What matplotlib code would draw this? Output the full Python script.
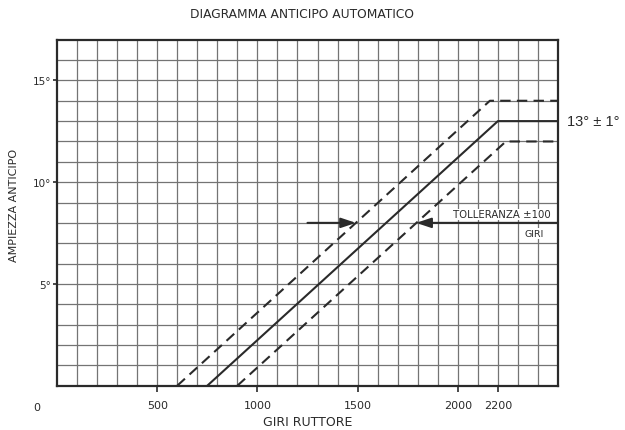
import matplotlib
matplotlib.use("Agg")
import matplotlib.pyplot as plt
import numpy as np

# Advance curve: breaker rpm vs. advance angle (degrees)
rpm_nominal = [750, 2200, 2500]
adv_nominal = [0, 13, 13]
rpm_upper = [600, 2160, 2500]
adv_upper = [0, 14, 14]
rpm_lower = [900, 2240, 2500]
adv_lower = [0, 12, 12]

x_ticks = [500, 1000, 1500, 2000, 2200]
x_tick_labels = ["500", "1000", "1500", "2000", "2200"]
y_ticks = [5, 10, 15]
y_tick_labels = ["5°", "10°", "15°"]

# Tolerance arrows at 8° advance
arrow_level = 8
arrow_left_from, arrow_left_to = 1250, 1492
arrow_right_from, arrow_right_to = 2500, 1792

ink = "#2a2a2a"
grid_col = "#747474"
font = "DejaVu Sans"

fig = plt.figure(figsize=(6.25, 4.31), dpi=100)
ax = fig.add_axes([57 / 625, 1 - 386.7 / 431, 501 / 625, 346 / 431])

ax.set_xlim(0, 2500)
ax.set_ylim(0, 17)

# square paper grid: 100 rpm x 1 degree
for xv in np.arange(100, 2500, 100):
    ax.axvline(xv, color=grid_col, lw=0.9, zorder=1)
for yv in np.arange(1, 17, 1):
    ax.axhline(yv, color=grid_col, lw=0.9, zorder=1)

for s in ax.spines.values():
    s.set_linewidth(1.6)
    s.set_color(ink)

ax.plot(rpm_nominal, adv_nominal, color=ink, lw=1.5, zorder=3, solid_capstyle="butt")
ax.plot(rpm_upper, adv_upper, color=ink, lw=1.5, zorder=3, dashes=(5, 3))
ax.plot(rpm_lower, adv_lower, color=ink, lw=1.5, zorder=3, dashes=(5, 3))

ax.set_xticks(x_ticks)
ax.set_xticklabels(x_tick_labels, fontsize=8, family=font, color=ink)
ax.set_yticks(y_ticks)
ax.set_yticklabels(y_tick_labels, fontsize=7.5, family=font, color=ink)
ax.tick_params(axis="x", length=4, width=1.2, color=ink, pad=6, direction="out")
ax.tick_params(axis="y", length=3, width=1.2, color=ink, pad=1, direction="out")

ax.annotate("0", xy=(0, 0), xytext=(-20 * 0.72, -21 * 0.72), textcoords="offset points",
            ha="center", va="center", fontsize=8, family=font, color=ink,
            annotation_clip=False)

ax.set_xlabel("GIRI RUTTORE", fontsize=9, family=font, color=ink, labelpad=4)
ax.set_ylabel("AMPIEZZA ANTICIPO", fontsize=8, family=font, color=ink)
ax.yaxis.set_label_coords(-38 / 501, (386.7 - 205) / 346)
fig.text(302 / 625, 1 - 15 / 431, "DIAGRAMMA ANTICIPO AUTOMATICO", ha="center", va="center",
         fontsize=8.8, family=font, color=ink)

arrow_style = dict(arrowstyle="-|>,head_length=0.9,head_width=0.3", color=ink, lw=1.5,
                   shrinkA=0, shrinkB=0)
ax.annotate("", xy=(arrow_left_to, arrow_level), xytext=(arrow_left_from, arrow_level),
            arrowprops=arrow_style, zorder=4)
ax.annotate("", xy=(arrow_right_to, arrow_level), xytext=(arrow_right_from, arrow_level),
            arrowprops=arrow_style, zorder=4, annotation_clip=False)

ax.text(2465, arrow_level + 0.18, "TOLLERANZA ±100", ha="right", va="bottom",
        fontsize=7.3, family=font, color=ink, zorder=5,
        bbox=dict(facecolor="white", edgecolor="none", pad=0.5))
ax.text(2380, arrow_level - 0.3, "GIRI", ha="center", va="top",
        fontsize=6.8, family=font, color=ink, zorder=5,
        bbox=dict(facecolor="white", edgecolor="none", pad=0.5))

ax.text(2545, 13, "13° ± 1°", ha="left", va="center", fontsize=10.5,
        family="Liberation Sans", color=ink, clip_on=False)

fig.savefig("out.png", dpi=100, facecolor="white")
